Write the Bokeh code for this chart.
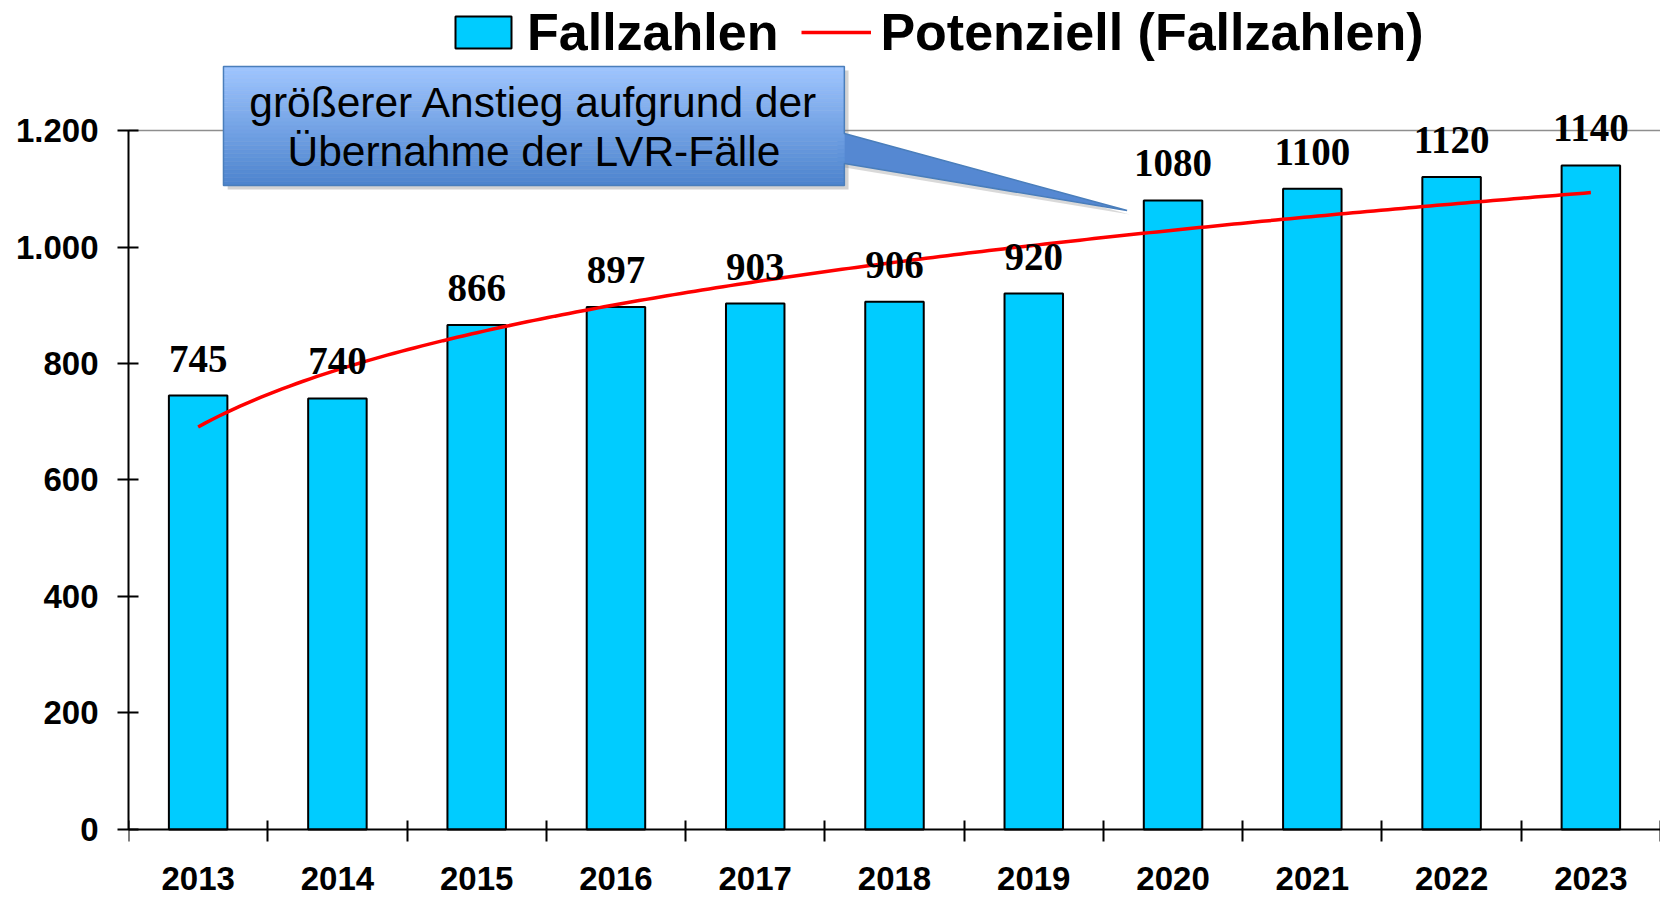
import numpy as np
from bokeh.plotting import figure
from bokeh.models import (Range1d, FixedTicker, LabelSet, ColumnDataSource, Legend,
                          LegendItem)
from bokeh.core.properties import value
from bokeh.embed import file_html
from bokeh.resources import INLINE

# ---------------- data ----------------
years = ["2013", "2014", "2015", "2016", "2017", "2018", "2019", "2020", "2021", "2022", "2023"]
cases = [745, 740, 866, 897, 903, 906, 920, 1080, 1100, 1120, 1140]
y_ticks = [0, 200, 400, 600, 800, 1000, 1200]
y_tick_labels = ["0", "200", "400", "600", "800", "1.000", "1.200"]
callout_lines = ["größerer Anstieg aufgrund der", "Übernahme der LVR-Fälle"]

# bar positions (category centres) on a numeric axis
pos = [i + 0.5 for i in range(len(years))]
boundaries = list(range(len(years) + 1))

# power trendline ("Potenziell") fitted to the data, y = a * n^b
n = np.arange(1, len(cases) + 1)
b_exp, ln_a = np.polyfit(np.log(n), np.log(cases), 1)
tn = np.linspace(1, len(cases), 200)
trend_x = tn - 0.5
trend_y = np.exp(ln_a) * tn ** b_exp

# ---------------- figure ----------------
p = figure(width=1660, height=898, output_backend="svg", toolbar_location=None,
           x_range=Range1d(0, 11.0), y_range=Range1d(-118.5, 1423.2),
           min_border_left=128, min_border_right=0, min_border_top=0,
           min_border_bottom=0, title=None)
p.outline_line_color = None
p.background_fill_color = "white"
p.border_fill_color = "white"

# grids: only the 1200 line
p.xgrid.visible = False
p.ygrid.ticker = FixedTicker(ticks=[1200])
p.ygrid.grid_line_color = "#8E8E8E"
p.ygrid.grid_line_width = 1.5

# y axis
ya = p.yaxis[0]
ya.ticker = FixedTicker(ticks=y_ticks)
ya.major_label_overrides = {t: l for t, l in zip(y_ticks, y_tick_labels)}
ya.bounds = (0, 1200)
ya.axis_line_width = 2
ya.axis_line_color = "black"
ya.major_tick_line_width = 2
ya.major_tick_line_color = "black"
ya.major_tick_in = 10
ya.major_tick_out = 11
ya.minor_tick_line_color = None
ya.major_label_standoff = 19
ya.major_label_text_font = "Liberation Sans"
ya.major_label_text_font_style = "bold"
ya.major_label_text_font_size = "33px"
ya.major_label_text_color = "black"

# x axis (drawn at y = 0 inside the frame)
xa = p.xaxis[0]
xa.fixed_location = 0
xa.ticker = FixedTicker(ticks=pos, minor_ticks=boundaries)
xa.major_label_overrides = {t: y for t, y in zip(pos, years)}
xa.axis_line_width = 2
xa.axis_line_color = "black"
xa.major_tick_line_color = None
xa.major_tick_in = 0
xa.major_tick_out = 0
xa.minor_tick_line_color = "black"
xa.minor_tick_line_width = 2
xa.minor_tick_in = 9
xa.minor_tick_out = 12
xa.major_label_standoff = 26
xa.major_label_text_font = "Liberation Sans"
xa.major_label_text_font_style = "bold"
xa.major_label_text_font_size = "33px"
xa.major_label_text_color = "black"

# bars
src = ColumnDataSource(dict(x=pos, top=cases, lab=[str(c) for c in cases]))
bars = p.vbar(x="x", top="top", width=0.42, source=src, fill_color="#00CCFF",
              line_color="black", line_width=2)

# trend line
trend = p.line(trend_x, trend_y, line_color="#FF0000", line_width=3.5)

# value labels
labels = LabelSet(x="x", y="top", text="lab", source=src, text_align="center",
                  text_baseline="alphabetic", y_offset=24,
                  text_font=value("Liberation Serif"), text_font_style="bold",
                  text_font_size="39px", text_color="black")
p.add_layout(labels)

# ---------------- callout ----------------
bx0, bx1 = 0.682, 5.14
by_top, by_bot = 1309.9, 1105.6
pa, pb = 1194.8, 1143.3
tip_x, tip_y = 7.17, 1062.7

# shadow
sh_dx, sh_dy = 0.03, -7
p.patch([bx0 + sh_dx, bx1 + sh_dx, bx1 + sh_dx, bx0 + sh_dx],
        [by_top + sh_dy, by_top + sh_dy, by_bot + sh_dy, by_bot + sh_dy],
        fill_color="#808080", fill_alpha=0.35, line_color=None)
p.patch([bx1, tip_x + 0.02, bx1], [pa + sh_dy, tip_y + sh_dy, pb + sh_dy],
        fill_color="#808080", fill_alpha=0.3, line_color=None)

# pointer
p.patch([bx1 - 0.05, bx1, tip_x, bx1, bx1 - 0.05], [pa, pa, tip_y, pb, pb],
        fill_color="#5588D2", line_color=None)

# gradient box
c_top = np.array([0xA0, 0xC6, 0xFF])
c_bot = np.array([0x4D, 0x84, 0xCE])
nb = 30
edges = np.linspace(by_top, by_bot, nb + 1)
cols = []
for i in range(nb):
    f = (i + 0.5) / nb
    c = (c_top * (1 - f) + c_bot * f).astype(int)
    cols.append("#%02x%02x%02x" % tuple(c))
p.quad(left=[bx0] * nb, right=[bx1] * nb, top=list(edges[:-1]), bottom=list(edges[1:]),
       fill_color=cols, line_color=cols, line_width=0.5)

# outline
p.patch([bx0, bx1, bx1, tip_x, bx1, bx1, bx0], [by_top, by_top, pa, tip_y, pb, by_bot, by_bot],
        fill_color=None, line_color="#4A7EBB", line_width=1.5)

cx = (bx0 + bx1) / 2
p.text(x=[cx, cx], y=[1248.8, 1163.3], text=callout_lines, text_align="center",
       text_baseline="middle", text_font=value("Liberation Sans"),
       text_font_size="42.5px", text_color="black")

# ---------------- legend ----------------
legend = Legend(items=[LegendItem(label="Fallzahlen", renderers=[bars]),
                       LegendItem(label="Potenziell (Fallzahlen)", renderers=[trend])],
                orientation="horizontal", location=(320, 836),
                glyph_width=70, glyph_height=40, label_standoff=9, spacing=23,
                padding=0, margin=0, border_line_color=None, background_fill_alpha=0,
                label_text_font="Liberation Sans", label_text_font_style="bold",
                label_text_font_size="52px", label_text_color="black")
p.add_layout(legend)

open("out.html", "w").write(file_html(p, INLINE))
